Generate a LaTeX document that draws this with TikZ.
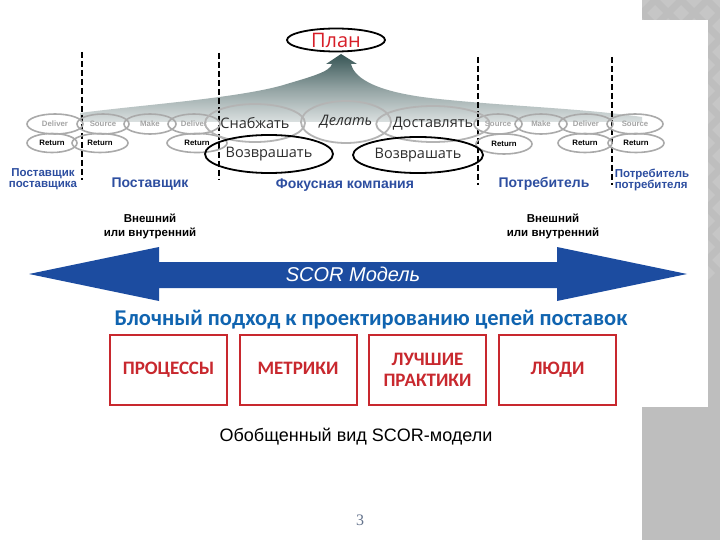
\documentclass[tikz,border=0pt]{standalone}
\usepackage{fontspec}
\setmainfont{Liberation Sans}
\newfontfamily\gothic{Open Sans}
\newfontfamily\carlito{Carlito}
\newfontfamily\serifnum{Liberation Serif}
\usetikzlibrary{shapes.geometric}
\definecolor{slidegray}{RGB}{190,190,190}
\definecolor{diamgray}{RGB}{198,198,198}
\definecolor{ellgray}{RGB}{170,170,170}
\definecolor{bigellgray}{RGB}{180,180,180}
\definecolor{faintgray}{RGB}{165,165,165}
\definecolor{darktext}{RGB}{45,45,45}
\definecolor{labelblue}{RGB}{45,78,160}
\definecolor{arrowblue}{RGB}{28,76,160}
\definecolor{titleblue}{RGB}{16,100,176}
\definecolor{boxred}{RGB}{200,40,46}
\definecolor{planred}{RGB}{215,30,40}
\definecolor{bandtop}{RGB}{55,85,85}
\definecolor{numcol}{RGB}{100,115,140}
\begin{document}
\begin{tikzpicture}[x=1pt,y=-1pt,
  smallell/.style={ellipse, draw=ellgray, line width=1.6pt, inner sep=0pt,
    font=\bfseries\fontsize{7.8}{9}\selectfont},
  faint/.style={text=faintgray},
  bigell/.style={ellipse, draw=bigellgray, line width=1.8pt, inner sep=0pt,
    text=darktext, font=\gothic\fontsize{14.5}{16}\selectfont},
  blackell/.style={ellipse, draw=black, line width=1.8pt, inner sep=0pt,
    text=darktext, font=\gothic\fontsize{14.5}{16}\selectfont},
  partlabel/.style={text=labelblue, font=\bfseries\fontsize{14}{15}\selectfont, inner sep=0pt},
  smalllabel/.style={text=labelblue, font=\bfseries\fontsize{11.5}{10.5}\selectfont, inner sep=0pt},
  extlabel/.style={font=\bfseries\fontsize{11.5}{14}\selectfont, align=center, inner sep=0pt},
  sep/.style={dashed, dash pattern=on 6pt off 3pt, line width=1.2pt},
  blockbox/.style={rectangle, draw=boxred, line width=2pt, minimum width=117pt,
    minimum height=70pt, text=boxred, align=center,
    font=\carlito\bfseries\fontsize{19}{21}\selectfont},
  oneline/.style={text height=13pt, text depth=4pt}
]
\useasboundingbox (0,0) rectangle (720,540);
% slide background
\fill[white] (0,0) rectangle (720,540);
\fill[slidegray] (642,0) rectangle (720,540);
\begin{scope}
  \clip (642,0) rectangle (720,540);
  \foreach \i in {0,...,4} {
    \foreach \j in {0,...,21} {
      \pgfmathsetmacro{\cx}{642+26*\i+13*mod(\j,2)}
      \pgfmathsetmacro{\cy}{13*\j}
      \fill[diamgray] (\cx,\cy-8) -- (\cx+8,\cy) -- (\cx,\cy+8) -- (\cx-8,\cy) -- cycle;
    }
  }
\end{scope}
\fill[white] (600,20) rectangle (708,407);

% gradient band with arrow to Plan
\shade[top color=bandtop, bottom color=bandtop!18!white, middle color=bandtop!55!white]
  (80,122) -- (80,113) .. controls (140,105) and (230,99) .. (280,86)
  .. controls (310,77) and (330,72) .. (332,64) -- (326,64) -- (341,54) -- (357,64) -- (351,64)
  .. controls (355,80) and (380,92) .. (430,98)
  .. controls (500,106) and (580,108) .. (642,117) -- (642,122) -- cycle;

% Plan
\node[ellipse, draw=black, line width=1.8pt, minimum width=98pt, minimum height=23pt,
  inner sep=0pt, text=planred, font=\gothic\fontsize{20}{22}\selectfont] (plan) at (336,40) {План};

% dashed separators
\coordinate (s1t) at (82,52);  \coordinate (s1b) at (82,180);
\coordinate (s2t) at (219,53); \coordinate (s2b) at (219,180);
\coordinate (s3t) at (478,57); \coordinate (s3b) at (478,185);
\coordinate (s4t) at (612,57); \coordinate (s4b) at (612,185);
\draw[sep] (s1t) -- (s1b);
\draw[sep] (s2t) -- (s2b);
\draw[sep] (s3t) -- (s3b);
\draw[sep] (s4t) -- (s4b);

% small ellipses, left
\node[smallell, faint, minimum width=56pt, minimum height=20pt] (dl1) at (55,124) {Deliver};
\node[smallell, faint, minimum width=52pt, minimum height=20pt] (sl1) at (103,124) {Source};
\node[smallell, faint, minimum width=52pt, minimum height=20pt] (ml1) at (150,124) {Make};
\node[smallell, faint, minimum width=52pt, minimum height=20pt] (dl2) at (194,124) {Deliver};
\node[smallell, minimum width=50pt, minimum height=19pt] (rl1) at (52,143) {Return};
\node[smallell, minimum width=56pt, minimum height=19pt] (rl2) at (100,143) {Return};
\node[smallell, minimum width=60pt, minimum height=19pt] (rl3) at (197,143) {Return};

% small ellipses, right
\node[smallell, faint, minimum width=48pt, minimum height=20pt] (sr1) at (498,124) {Source};
\node[smallell, faint, minimum width=52pt, minimum height=20pt] (mr1) at (541,124) {Make};
\node[smallell, faint, minimum width=54pt, minimum height=20pt] (dr1) at (586,124) {Deliver};
\node[smallell, faint, minimum width=56pt, minimum height=20pt] (sr2) at (635,124) {Source};
\node[smallell, minimum width=56pt, minimum height=20pt] (rr1) at (504,144) {Return};
\node[smallell, minimum width=54pt, minimum height=19pt] (rr2) at (585,143) {Return};
\node[smallell, minimum width=56pt, minimum height=19pt] (rr3) at (636,143) {Return};

% big ellipses
\node[bigell, minimum width=100pt, minimum height=38pt] (snab) at (255,123) {Снабжать};
\node[bigell, minimum width=90pt, minimum height=42pt, font=\gothic\itshape\fontsize{14.5}{16}\selectfont] (del) at (346,122) {Делать};
\node[bigell, minimum width=96pt, minimum height=36pt] (dost) at (433,124) {Доставлять};
\node[blackell, minimum width=128pt, minimum height=38pt] (voz1) at (269,154) {Возврашать};
\node[blackell, minimum width=130pt, minimum height=36pt] (voz2) at (418,155) {Возврашать};

% party labels
\node[smalllabel, align=center] (pp) at (43,179) {Поставщик\\поставщика};
\node[partlabel] (p) at (150,184) {Поставщик};
\node[partlabel] (fk) at (345,185) {Фокусная компания};
\node[partlabel] (c) at (544,184) {Потребитель};
\node[smalllabel, align=left] (cc) at (652,180) {Потребитель\\потребителя};

% external / internal
\node[extlabel] (ext1) at (150,226) {Внешний\\или внутренний};
\node[extlabel] (ext2) at (553,226) {Внешний\\или внутренний};

% SCOR double arrow
\fill[arrowblue] (29,274) -- (159,247) -- (159,262) -- (557,262) -- (557,247) -- (687,274)
  -- (557,301) -- (557,288) -- (159,288) -- (159,301) -- cycle;
\node[text=white, font=\itshape\fontsize{20}{22}\selectfont] (scor) at (353,274) {SCOR Модель};

% title
\node[text=titleblue, font=\carlito\bfseries\fontsize{22.5}{24}\selectfont] (title) at (371,320)
  {Блочный подход к проектированию цепей поставок};

% blocks
\node[blockbox, oneline] (b1) at (168.5,370) {ПРОЦЕССЫ};
\node[blockbox, oneline] (b2) at (298,370) {МЕТРИКИ};
\node[blockbox] (b3) at (427.5,370) {ЛУЧШИЕ\\ПРАКТИКИ};
\node[blockbox, oneline] (b4) at (557.5,370) {ЛЮДИ};

% caption
\node[font=\fontsize{18}{20}\selectfont] (cap) at (356,437) {Обобщенный вид SCOR-модели};

% page number
\node[text=numcol, font=\serifnum\fontsize{16}{18}\selectfont] (num) at (360,520) {3};
\end{tikzpicture}
\end{document}
